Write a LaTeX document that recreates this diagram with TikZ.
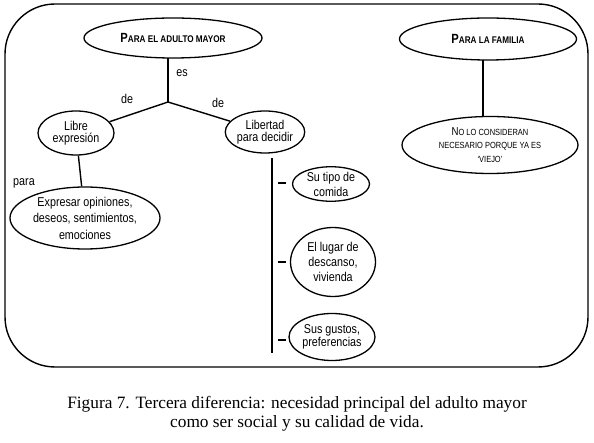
\documentclass[tikz,border=0pt]{standalone}
\usepackage{fontspec}
\setmainfont{Liberation Sans}[FakeStretch=0.84]
\newfontfamily\capfont{Liberation Serif}
\usetikzlibrary{shapes.geometric}
\newcommand{\smc}[2]{{\fontsize{13.3}{14}\selectfont #1}{\fontsize{9.7}{14}\selectfont #2}}
\newcommand{\smcs}[2]{{\fontsize{11.5}{13.5}\selectfont #1}{\fontsize{8.9}{13.5}\selectfont #2}}
\tikzset{
  bub/.style={draw, ellipse, line width=1.3pt, inner sep=0pt, align=center,
    font=\fontsize{12.8}{12.8}\selectfont},
  ln/.style={line width=1.4pt},
  lbl/.style={font=\fontsize{12.8}{13}\selectfont, inner sep=0pt}
}
\begin{document}
\begin{tikzpicture}[x=1pt,y=-1pt]
\useasboundingbox (0,0) rectangle (594,443);
\draw[line width=1.4pt, rounded corners=50pt] (5,4) rectangle (588,367);
% top-left concept
\node[bub, minimum width=178pt, minimum height=40pt] (adulto) at (173,38)
  {\bfseries\smc{P}{ARA EL ADULTO MAYOR}};
\node[bub, minimum width=177pt, minimum height=42pt] (familia) at (488,39)
  {\bfseries\smc{P}{ARA LA FAMILIA}};
\node[bub, minimum width=176pt, minimum height=57pt, font=\fontsize{11.5}{13.5}\selectfont] (viejo) at (490,145)
  {\smcs{N}{O LO CONSIDERAN}\\ {\fontsize{8.9}{13.5}\selectfont NECESARIO PORQUE YA ES}\\ {\fontsize{8.9}{13.5}\selectfont `VIEJO'}};
\coordinate (fam1) at (483,60);
\coordinate (fam2) at (483,117);
\draw[ln] (fam1) -- (fam2);
% junction
\coordinate (a1) at (168,58);
\coordinate (j) at (168,102);
\draw[ln] (a1) -- (j);
\node[bub, minimum width=76pt, minimum height=44pt, font=\fontsize{12.8}{12.5}\selectfont] (libre) at (76,133) {Libre\\expresión};
\node[bub, minimum width=78pt, minimum height=42pt, font=\fontsize{12.8}{12.5}\selectfont] (libertad) at (265,132) {Libertad\\para decidir};
\draw[ln] (j) -- (libre);
\draw[ln] (j) -- (libertad);
\node[lbl] (es) at (182,73) {es};
\node[lbl] (de1) at (127,99) {de};
\node[lbl] (de2) at (218,103) {de};
% Expresar
\node[bub, minimum width=150pt, minimum height=62pt, font=\fontsize{12.8}{16.5}\selectfont] (expresar) at (85,218)
  {Expresar opiniones,\\deseos, sentimientos,\\emociones};
\draw[ln] (libre) -- (expresar);
\node[lbl] (para) at (24,183) {para};
% vertical bar
\coordinate (v1) at (272,158);
\coordinate (v2) at (272,353);
\draw[ln] (v1) -- (v2);
\node[bub, minimum width=77pt, minimum height=33pt, font=\fontsize{12.8}{15}\selectfont] (tipo) at (331,184) {Su tipo de\\comida};
\node[bub, minimum width=85pt, minimum height=69pt, font=\fontsize{12.8}{15}\selectfont] (lugar) at (333,262) {El lugar de\\descanso,\\vivienda};
\node[bub, minimum width=86pt, minimum height=47pt, font=\fontsize{12.8}{13.3}\selectfont] (gustos) at (332,337) {Sus gustos,\\preferencias};
\draw[ln] (278,183) -- (286,183);
\draw[ln] (278,262) -- (286,262);
\draw[ln] (278,340) -- (286,340);
% caption
\node[font=\capfont\fontsize{17.3}{19}\selectfont, align=center, inner sep=0pt] (cap) at (297,414)
  {Figura 7. Tercera diferencia: necesidad principal del adulto mayor\\como ser social y su calidad de vida.};
\end{tikzpicture}
\end{document}
